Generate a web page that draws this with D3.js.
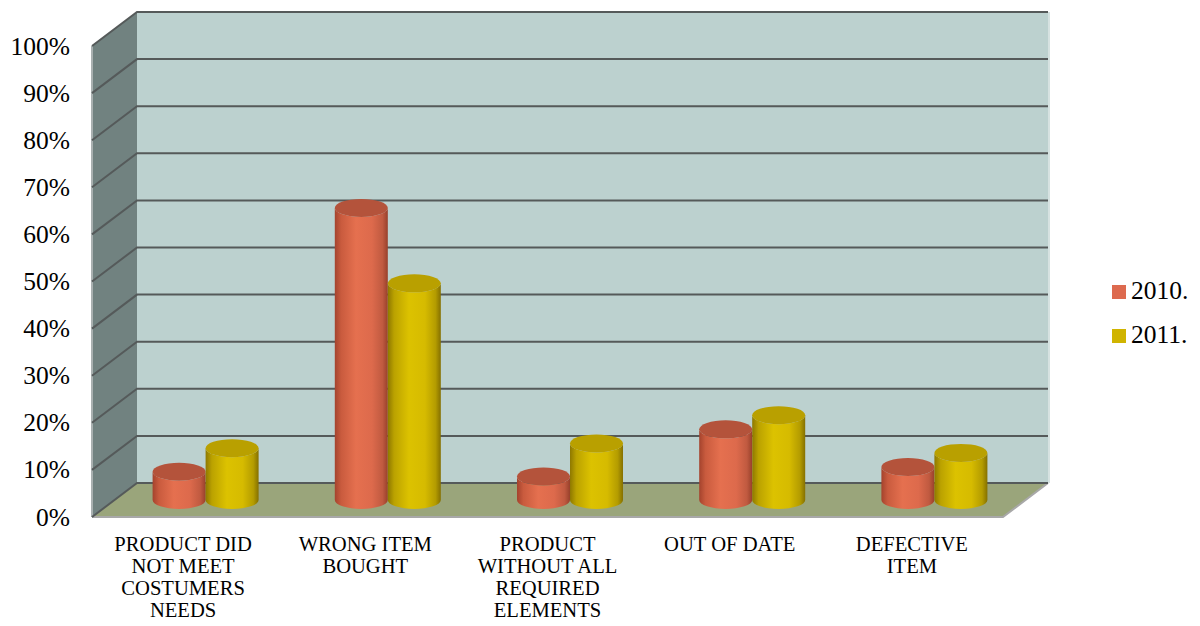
<!DOCTYPE html>
<html>
<head>
<meta charset="utf-8">
<script src="https://cdn.jsdelivr.net/npm/d3@7"></script>
<style>
  html, body { margin: 0; padding: 0; background: #ffffff; }
  svg { display: block; }
</style>
</head>
<body>
<svg id="chart" width="1200" height="626" font-family="'Liberation Serif', 'Times New Roman', Times, serif"></svg>
<script>
// Reasons for product returns, share of all returns by year
const categories = [
  ["PRODUCT DID", "NOT MEET", "COSTUMERS", "NEEDS"],
  ["WRONG ITEM", "BOUGHT"],
  ["PRODUCT", "WITHOUT ALL", "REQUIRED", "ELEMENTS"],
  ["OUT OF DATE"],
  ["DEFECTIVE", "ITEM"]
];
const seriesNames = ["2010.", "2011."];
const values2010 = [0.06, 0.62, 0.05, 0.15, 0.07];
const values2011 = [0.11, 0.46, 0.12, 0.18, 0.10];
const tickValues = [0, 0.1, 0.2, 0.3, 0.4, 0.5, 0.6, 0.7, 0.8, 0.9, 1.0];

const FONT = "'Liberation Serif', 'Times New Roman', Times, serif";
const svg = d3.select("#chart");

// 3D box: front plane plus a depth offset toward the back wall
const front = { left: 92, right: 1003, top: 46, bottom: 517 };
const depth = { dx: 45, dy: -34 };

const catKeys = categories.map((c, i) => i);
const x = d3.scaleBand().domain(catKeys).range([front.left, front.right]);
const y = d3.scaleLinear().domain([0, 1]).range([front.bottom, front.top]);
const groupWidth = 106;
const xs = d3.scaleBand().domain(seriesNames).range([0, groupWidth]);

const backX0 = front.left + depth.dx, backX1 = front.right + depth.dx;

// side wall
svg.append("polygon")
  .attr("points", [
    [front.left, y(1)], [backX0, y(1) + depth.dy],
    [backX0, y(0) + depth.dy], [front.left, y(0)]
  ].join(" "))
  .attr("fill", "#718280");

// back wall
svg.append("rect")
  .attr("x", backX0).attr("y", y(1) + depth.dy)
  .attr("width", backX1 - backX0).attr("height", y(0) - y(1))
  .attr("fill", "#bcd1cf");

// floor
svg.append("polygon")
  .attr("points", [
    [front.left, y(0)], [backX0, y(0) + depth.dy],
    [backX1, y(0) + depth.dy], [front.right, y(0)]
  ].join(" "))
  .attr("fill", "#9aa57b");

// wall and floor edges
svg.append("line")
  .attr("x1", front.left).attr("y1", y(1))
  .attr("x2", front.left).attr("y2", y(0))
  .attr("stroke", "#a9b0b0").attr("stroke-width", 2);
svg.append("line")
  .attr("x1", backX1 + 1).attr("y1", y(1) + depth.dy)
  .attr("x2", backX1 + 1).attr("y2", y(0) + depth.dy)
  .attr("stroke", "#d6e2e1").attr("stroke-width", 2);
svg.append("polyline")
  .attr("points", [
    [front.left, y(0)], [front.right, y(0)], [backX1, y(0) + depth.dy]
  ].join(" "))
  .attr("fill", "none").attr("stroke", "#a8a8a8").attr("stroke-width", 2);

// gridlines across side and back walls
const grid = svg.append("g").attr("fill", "none")
  .attr("stroke", "#555a5a").attr("stroke-width", 2);
tickValues.forEach(t => {
  grid.append("polyline")
    .attr("points", [
      [front.left, y(t)], [backX0, y(t) + depth.dy], [backX1, y(t) + depth.dy]
    ].join(" "));
});

// y tick labels
svg.append("g").selectAll("text")
  .data(tickValues)
  .join("text")
  .attr("x", 70)
  .attr("y", d => y(d) + 8.5)
  .attr("text-anchor", "end")
  .attr("font-family", FONT)
  .attr("font-size", 25.5)
  .attr("fill", "#000")
  .text(d => d3.format(".0%")(d));

// cylinder gradients
const defs = svg.append("defs");
function bodyGradient(id, stops) {
  const g = defs.append("linearGradient").attr("id", id)
    .attr("x1", "0%").attr("x2", "100%").attr("y1", "0%").attr("y2", "0%");
  stops.forEach(([o, c]) => g.append("stop").attr("offset", o).attr("stop-color", c));
}
bodyGradient("g2010", [["0%", "#a4432d"], ["12%", "#c95b3e"], ["40%", "#e5704f"], ["70%", "#dd6a4c"], ["90%", "#c05a40"], ["100%", "#98402b"]]);
bodyGradient("g2011", [["0%", "#8e7800"], ["12%", "#bba200"], ["40%", "#dcc200"], ["70%", "#d6bb00"], ["90%", "#b49c00"], ["100%", "#857000"]]);

const series = [
  { name: seriesNames[0], values: values2010, body: "url(#g2010)", top: "#b4533b" },
  { name: seriesNames[1], values: values2011, body: "url(#g2011)", top: "#b9a000" }
];

// cylinders sit at mid depth
const midDx = depth.dx / 2, midDy = depth.dy / 2;
const ry = 9;
const bars = svg.append("g");
catKeys.forEach(ci => {
  const gx = x(ci) + x.bandwidth() / 2 - groupWidth / 2 + midDx;
  series.forEach(s => {
    const left = gx + xs(s.name);
    const w = xs.bandwidth();
    const rx = w / 2;
    const right = left + w;
    const yb = y(0) + midDy;
    const yt = y(s.values[ci]) + midDy;
    const d = `M${left},${yt} L${left},${yb} A${rx},${ry} 0 0 0 ${right},${yb} L${right},${yt} A${rx},${ry} 0 0 1 ${left},${yt} Z`;
    bars.append("path").attr("d", d).attr("fill", s.body);
    bars.append("ellipse")
      .attr("cx", left + rx).attr("cy", yt)
      .attr("rx", rx).attr("ry", ry)
      .attr("fill", s.top);
  });
});

// category labels
const xl = svg.append("g");
categories.forEach((lines, ci) => {
  const cx = x(ci) + x.bandwidth() / 2;
  const t = xl.append("text")
    .attr("x", cx)
    .attr("y", 551)
    .attr("text-anchor", "middle")
    .attr("font-family", FONT)
    .attr("font-size", 20.6)
    .attr("fill", "#000");
  lines.forEach((ln, li) => {
    t.append("tspan")
      .attr("x", cx)
      .attr("dy", li === 0 ? 0 : 22)
      .text(ln);
  });
});

// legend
const legendColors = ["#dd6a4f", "#d0b400"];
const legend = svg.append("g");
seriesNames.forEach((n, i) => {
  const ly = 285 + i * 44;
  legend.append("rect")
    .attr("x", 1112).attr("y", ly)
    .attr("width", 14).attr("height", 14)
    .attr("fill", legendColors[i]);
  legend.append("text")
    .attr("x", 1131).attr("y", ly + 14)
    .attr("font-family", FONT)
    .attr("font-size", 25.5)
    .attr("fill", "#000")
    .text(n);
});
</script>
</body>
</html>
